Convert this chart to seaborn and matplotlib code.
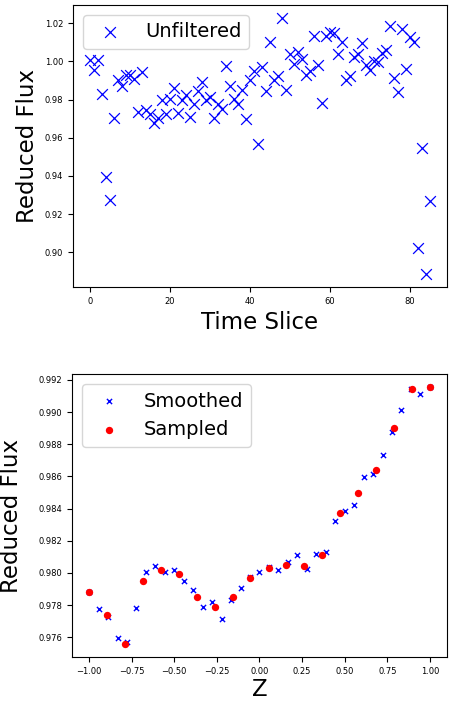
import matplotlib
matplotlib.use("Agg")
import matplotlib.pyplot as plt
import seaborn as sns

# light curve, one value per time slice
time_slice = list(range(86))
unfiltered = [
    1.0009, 0.9957, 1.0009, 0.9831, 0.9395, 0.9273, 0.9703, 0.9901, 0.9874, 0.9927,
    0.9927, 0.9910, 0.9735, 0.9944, 0.9744, 0.9726, 0.9679, 0.9706, 0.9796, 0.9723,
    0.9805, 0.9862, 0.9732, 0.9796, 0.9822, 0.9709, 0.9779, 0.9845, 0.9892, 0.9796,
    0.9813, 0.9706, 0.9779, 0.9753, 0.9975, 0.9874, 0.9801, 0.9775, 0.9852, 0.9700,
    0.9901, 0.9948, 0.9566, 0.9970, 0.9845, 1.0101, 0.9904, 0.9922, 1.0229, 0.9848,
    1.0040, 0.9988, 1.0049, 1.0014, 0.9927, 0.9948, 1.0136, 0.9984, 0.9782, 1.0136,
    1.0153, 1.0148, 1.0040, 1.0101, 0.9904, 0.9922, 1.0022, 1.0040, 1.0096, 0.9979,
    0.9957, 1.0005, 0.9996, 1.0043, 1.0058, 1.0188, 0.9915, 0.9839, 1.0171, 0.9958,
    1.0127, 1.0101, 0.9024, 0.9547, 0.8885, 0.9268,
]

# smoothed curve on a fine z grid
z_smooth = [
    -1.000, -0.944, -0.889, -0.833, -0.778, -0.722, -0.667, -0.611, -0.556, -0.500,
    -0.444, -0.389, -0.333, -0.278, -0.222, -0.167, -0.111, -0.056, 0.000, 0.056,
    0.111, 0.167, 0.222, 0.278, 0.333, 0.389, 0.444, 0.500, 0.556, 0.611,
    0.667, 0.722, 0.778, 0.833, 0.889, 0.944, 1.000,
]
flux_smooth = [
    0.97880, 0.97773, 0.97726, 0.97593, 0.97572, 0.97784, 0.98004, 0.98045, 0.98008, 0.98019,
    0.97952, 0.97895, 0.97788, 0.97819, 0.97716, 0.97829, 0.97907, 0.97973, 0.98004, 0.98035,
    0.98019, 0.98070, 0.98111, 0.98025, 0.98117, 0.98127, 0.98323, 0.98385, 0.98422, 0.98594,
    0.98615, 0.98730, 0.98874, 0.99012, 0.99142, 0.99115, 0.99156,
]

# sampled points
z_sampled = [
    -1.000, -0.895, -0.789, -0.684, -0.579, -0.474, -0.368, -0.263, -0.158, -0.053,
    0.053, 0.158, 0.263, 0.368, 0.474, 0.579, 0.684, 0.789, 0.895, 1.000,
]
flux_sampled = [
    0.97880, 0.97736, 0.97557, 0.97952, 0.98019, 0.97990, 0.97849, 0.97788, 0.97849, 0.97969,
    0.98031, 0.98051, 0.98041, 0.98113, 0.98374, 0.98498, 0.98642, 0.98903, 0.99142, 0.99156,
]

fig = plt.figure(figsize=(4.49, 7.02), dpi=100)
ax1 = fig.add_axes([0.1626, 0.5912, 0.833, 0.4017])
ax2 = fig.add_axes([0.1604, 0.0641, 0.835, 0.4030])

sns.scatterplot(x=time_slice, y=unfiltered, marker="x", color="blue", s=60,
                linewidth=0.9, label="Unfiltered", ax=ax1)
ax1.set_xlabel("Time Slice", fontsize=16.5)
ax1.set_ylabel("Reduced Flux", fontsize=16.5)
ax1.tick_params(labelsize=6)
ax1.legend(loc="upper left", fontsize=14)

sns.scatterplot(x=z_smooth, y=flux_smooth, marker="x", color="blue", s=14,
                linewidth=1.0, label="Smoothed", ax=ax2)
sns.scatterplot(x=z_sampled, y=flux_sampled, marker="o", color="red", s=28,
                linewidth=0, label="Sampled", ax=ax2)
ax2.set_xlabel("Z", fontsize=16.5, labelpad=1.5)
ax2.set_ylabel("Reduced Flux", fontsize=16.5, labelpad=11)
ax2.tick_params(labelsize=6)
ax2.set_yticks([0.976, 0.978, 0.980, 0.982, 0.984, 0.986, 0.988, 0.990, 0.992])
ax2.legend(loc="upper left", fontsize=14)

fig.savefig("out.png", dpi=100)
